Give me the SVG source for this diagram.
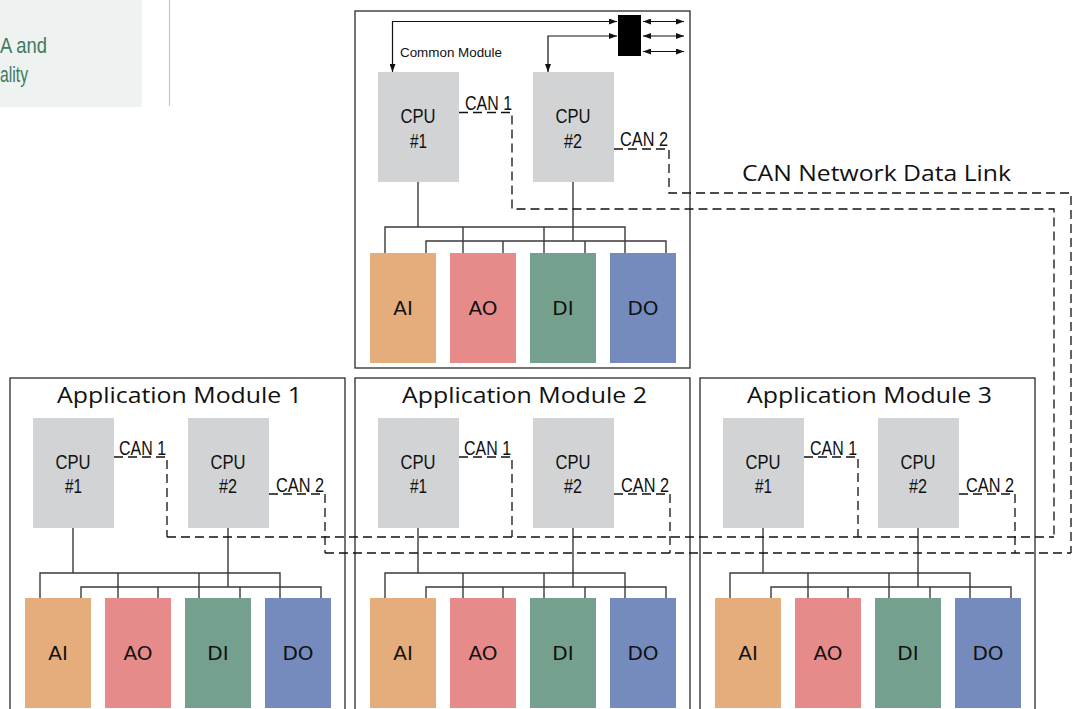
<svg xmlns="http://www.w3.org/2000/svg" width="1072" height="709" viewBox="0 0 1072 709">
<style>
.mod{fill:#fff;stroke:#2a2a2a;stroke-width:1.3}
.cpu{fill:#d1d3d4}
.ai{fill:#e6ad7c}.ao{fill:#e68b8a}.di{fill:#75a08d}.do{fill:#758bbd}
.bus{fill:none;stroke:#3a3a3a;stroke-width:1.4}
.can{fill:none;stroke:#111;stroke-width:1.3;stroke-dasharray:9 5}
.arr{fill:none;stroke:#111;stroke-width:1.2}
.t{font-family:"Liberation Sans",Arial,sans-serif;fill:#111}
.ct{font-family:"Liberation Sans",Arial,sans-serif;font-size:20px;fill:#111}
.io{font-family:"DejaVu Sans",sans-serif;font-size:20px;fill:#111;text-anchor:middle}
.title{font-family:"Open Sans","Noto Sans",sans-serif;font-size:22px;fill:#111}
</style>
<defs>
<marker id="ah" viewBox="0 0 8 6" refX="8" refY="3" markerWidth="8" markerHeight="6" markerUnits="userSpaceOnUse" orient="auto-start-reverse"><path d="M0,0 L8,3 L0,6 z" fill="#111"/></marker>
</defs>

<g id="side-panel">
<rect x="0" y="0" width="142" height="107" fill="#eef2f0"/>
<text x="0" y="53" font-family="Liberation Sans,Arial,sans-serif" font-size="22" fill="#3d7b60" textLength="47" lengthAdjust="spacingAndGlyphs">A and</text>
<text x="0" y="82" font-family="Liberation Sans,Arial,sans-serif" font-size="22" fill="#3d7b60" textLength="28" lengthAdjust="spacingAndGlyphs">ality</text>
<line x1="169.5" y1="0" x2="169.5" y2="106" stroke="#c3ccc7" stroke-width="1.2"/>
</g>

<!-- Common module -->
<g id="common-module">
<rect class="mod" x="355" y="11" width="335" height="357"/>
<text class="t" x="400" y="57" font-size="13.5" textLength="102" lengthAdjust="spacingAndGlyphs">Common Module</text>
<rect id="switch" x="618" y="15" width="23" height="41" fill="#000"/>
<g id="cm-cpu1"><rect class="cpu" x="378" y="72" width="81" height="110"/><text class="ct" x="400.5" y="123" textLength="35" lengthAdjust="spacingAndGlyphs">CPU</text><text class="ct" x="410" y="148" textLength="17" lengthAdjust="spacingAndGlyphs">#1</text></g>
<g id="cm-cpu2"><rect class="cpu" x="533" y="72" width="81" height="110"/><text class="ct" x="555.5" y="123" textLength="35" lengthAdjust="spacingAndGlyphs">CPU</text><text class="ct" x="564" y="148" textLength="18" lengthAdjust="spacingAndGlyphs">#2</text></g>
<text class="ct" x="465" y="110" textLength="47" lengthAdjust="spacingAndGlyphs">CAN 1</text>
<text class="ct" x="620" y="146" textLength="48" lengthAdjust="spacingAndGlyphs">CAN 2</text>
<g id="cm-ai"><rect class="ai" x="370" y="253" width="66" height="110"/><text class="io" x="403" y="315">AI</text></g>
<g id="cm-ao"><rect class="ao" x="450" y="253" width="66" height="110"/><text class="io" x="483" y="315">AO</text></g>
<g id="cm-di"><rect class="di" x="530" y="253" width="66" height="110"/><text class="io" x="563" y="315">DI</text></g>
<g id="cm-do"><rect class="do" x="610" y="253" width="66" height="110"/><text class="io" x="643" y="315">DO</text></g>
</g>

<!-- Application modules -->
<g id="app-module-1">
<rect class="mod" x="10" y="378" width="335" height="345"/>
<text class="title" x="57" y="403" textLength="245" lengthAdjust="spacingAndGlyphs">Application Module 1</text>
<g id="am1-cpu1"><rect class="cpu" x="33" y="418" width="81" height="110"/><text class="ct" x="55.5" y="469" textLength="35" lengthAdjust="spacingAndGlyphs">CPU</text><text class="ct" x="65" y="493" textLength="17" lengthAdjust="spacingAndGlyphs">#1</text></g>
<g id="am1-cpu2"><rect class="cpu" x="188" y="418" width="81" height="110"/><text class="ct" x="210.5" y="469" textLength="35" lengthAdjust="spacingAndGlyphs">CPU</text><text class="ct" x="219" y="493" textLength="18" lengthAdjust="spacingAndGlyphs">#2</text></g>
<text class="ct" x="119" y="455" textLength="47" lengthAdjust="spacingAndGlyphs">CAN 1</text>
<text class="ct" x="276" y="492" textLength="48" lengthAdjust="spacingAndGlyphs">CAN 2</text>
<g id="am1-ai"><rect class="ai" x="25" y="598" width="66" height="110"/><text class="io" x="58" y="660">AI</text></g>
<g id="am1-ao"><rect class="ao" x="105" y="598" width="66" height="110"/><text class="io" x="138" y="660">AO</text></g>
<g id="am1-di"><rect class="di" x="185" y="598" width="66" height="110"/><text class="io" x="218" y="660">DI</text></g>
<g id="am1-do"><rect class="do" x="265" y="598" width="66" height="110"/><text class="io" x="298" y="660">DO</text></g>
</g>

<g id="app-module-2">
<rect class="mod" x="355" y="378" width="335" height="345"/>
<text class="title" x="402" y="403" textLength="245" lengthAdjust="spacingAndGlyphs">Application Module 2</text>
<g id="am2-cpu1"><rect class="cpu" x="378" y="418" width="81" height="110"/><text class="ct" x="400.5" y="469" textLength="35" lengthAdjust="spacingAndGlyphs">CPU</text><text class="ct" x="410" y="493" textLength="17" lengthAdjust="spacingAndGlyphs">#1</text></g>
<g id="am2-cpu2"><rect class="cpu" x="533" y="418" width="81" height="110"/><text class="ct" x="555.5" y="469" textLength="35" lengthAdjust="spacingAndGlyphs">CPU</text><text class="ct" x="564" y="493" textLength="18" lengthAdjust="spacingAndGlyphs">#2</text></g>
<text class="ct" x="464" y="455" textLength="47" lengthAdjust="spacingAndGlyphs">CAN 1</text>
<text class="ct" x="621" y="492" textLength="48" lengthAdjust="spacingAndGlyphs">CAN 2</text>
<g id="am2-ai"><rect class="ai" x="370" y="598" width="66" height="110"/><text class="io" x="403" y="660">AI</text></g>
<g id="am2-ao"><rect class="ao" x="450" y="598" width="66" height="110"/><text class="io" x="483" y="660">AO</text></g>
<g id="am2-di"><rect class="di" x="530" y="598" width="66" height="110"/><text class="io" x="563" y="660">DI</text></g>
<g id="am2-do"><rect class="do" x="610" y="598" width="66" height="110"/><text class="io" x="643" y="660">DO</text></g>
</g>

<g id="app-module-3">
<rect class="mod" x="700" y="378" width="335" height="345"/>
<text class="title" x="747" y="403" textLength="245" lengthAdjust="spacingAndGlyphs">Application Module 3</text>
<g id="am3-cpu1"><rect class="cpu" x="723" y="418" width="81" height="110"/><text class="ct" x="745.5" y="469" textLength="35" lengthAdjust="spacingAndGlyphs">CPU</text><text class="ct" x="755" y="493" textLength="17" lengthAdjust="spacingAndGlyphs">#1</text></g>
<g id="am3-cpu2"><rect class="cpu" x="878" y="418" width="81" height="110"/><text class="ct" x="900.5" y="469" textLength="35" lengthAdjust="spacingAndGlyphs">CPU</text><text class="ct" x="909" y="493" textLength="18" lengthAdjust="spacingAndGlyphs">#2</text></g>
<text class="ct" x="810" y="455" textLength="47" lengthAdjust="spacingAndGlyphs">CAN 1</text>
<text class="ct" x="966" y="492" textLength="48" lengthAdjust="spacingAndGlyphs">CAN 2</text>
<g id="am3-ai"><rect class="ai" x="715" y="598" width="66" height="110"/><text class="io" x="748" y="660">AI</text></g>
<g id="am3-ao"><rect class="ao" x="795" y="598" width="66" height="110"/><text class="io" x="828" y="660">AO</text></g>
<g id="am3-di"><rect class="di" x="875" y="598" width="66" height="110"/><text class="io" x="908" y="660">DI</text></g>
<g id="am3-do"><rect class="do" x="955" y="598" width="66" height="110"/><text class="io" x="988" y="660">DO</text></g>
</g>

<text id="can-network-label" class="title" x="742" y="181" textLength="269" lengthAdjust="spacingAndGlyphs">CAN Network Data Link</text>

<g id="connectors">
<!-- top arrows -->
<path class="arr" d="M392.5,72 V21.5 H617" marker-start="url(#ah)" marker-end="url(#ah)"/>
<path class="arr" d="M548,72 V36 H617" marker-start="url(#ah)" marker-end="url(#ah)"/>
<path class="arr" d="M643,21.5 H684" marker-start="url(#ah)" marker-end="url(#ah)"/>
<path class="arr" d="M643,36 H684" marker-start="url(#ah)" marker-end="url(#ah)"/>
<path class="arr" d="M643,51.5 H684" marker-start="url(#ah)" marker-end="url(#ah)"/>

<!-- common module buses -->
<path class="bus" d="M418,182 V227 M385,253 V227 H625 V253 M463,227 V253 M544,227 V253"/>
<path class="bus" d="M573,182 V241 M426,253 V241 H666 V253 M503,241 V253 M585,241 V253"/>
<!-- app module 1 buses -->
<path class="bus" d="M73,528 V573 M40,598 V573 H280 V598 M118,573 V598 M199,573 V598"/>
<path class="bus" d="M228,528 V587 M81,598 V587 H321 V598 M158,587 V598 M240,587 V598"/>
<!-- app module 2 buses -->
<path class="bus" d="M418,528 V573 M385,598 V573 H625 V598 M463,573 V598 M544,573 V598"/>
<path class="bus" d="M573,528 V587 M426,598 V587 H666 V598 M503,587 V598 M585,587 V598"/>
<!-- app module 3 buses -->
<path class="bus" d="M763,528 V573 M730,598 V573 H970 V598 M808,573 V598 M889,573 V598"/>
<path class="bus" d="M918,528 V587 M771,598 V587 H1011 V598 M848,587 V598 M930,587 V598"/>

<!-- CAN 1 network -->
<path class="can" d="M459,112.5 H512 V209 H1054 V537"/>
<path class="can" d="M167,537 H1054"/>
<path class="can" d="M114,457 H167 V537"/>
<path class="can" d="M459,457 H512 V537"/>
<path class="can" d="M804,457 H858 V537"/>
<!-- CAN 2 network -->
<path class="can" d="M614,149 H669 V193 H1071 V553"/>
<path class="can" d="M325,553 H1071"/>
<path class="can" d="M269,494 H325 V553"/>
<path class="can" d="M614,494 H670 V553"/>
<path class="can" d="M959,494 H1015 V553"/>
</g>
</svg>
